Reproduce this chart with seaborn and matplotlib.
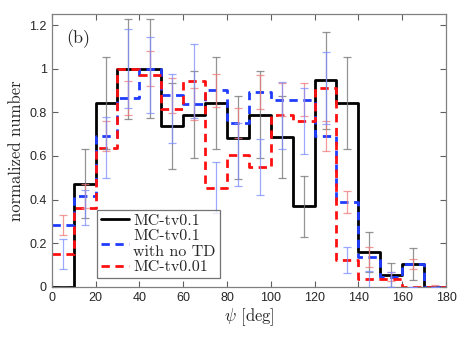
import numpy as np
import pandas as pd
import seaborn as sns
import matplotlib
matplotlib.use("Agg")
import matplotlib.pyplot as plt

# bin edges in psi [deg]
bin_edges = list(range(0, 190, 10))

# normalized counts per bin
mc_tv01 = [0, 0.473, 0.842, 1.0, 1.0, 0.737, 0.789, 0.842, 0.684, 0.789,
           0.687, 0.369, 0.947, 0.842, 0.158, 0.053, 0.105, 0]
mc_tv01_notd = [0.282, 0.417, 0.69, 0.866, 1.0, 0.878, 0.838, 0.90, 0.751, 0.893,
                0.858, 0.858, 0.69, 0.389, 0.136, 0.046, 0.105, 0]
mc_tv001 = [0.15, 0.362, 0.637, 1.0, 0.969, 0.817, 0.942, 0.455, 0.606, 0.549,
            0.786, 0.759, 0.911, 0.122, 0.034, 0.034, 0, 0]

# error half-widths per bin
err_tv01 = [0, 0.157, 0.21, 0.229, 0.227, 0.196, 0.2, 0.21, 0.19, 0.2,
            0.19, 0.139, 0.223, 0.21, 0.092, 0.054, 0.074, 0]
err_tv01_notd = [0.046, 0.055, 0.068, 0.077, 0.081, 0.08, 0.073, 0.077, 0.07, 0.076,
                 0.076, 0.076, 0.068, 0.05, 0.045, 0.02, 0.024, 0.01]
err_tv001 = [0.068, 0.08, 0.14, 0.18, 0.174, 0.159, 0.17, 0.118, 0.143, 0.13,
             0.155, 0.151, 0.165, 0.06, 0.04, 0.035, 0, 0]

labels = ["MC-tv0.1", "MC-tv0.1\nwith no TD", "MC-tv0.01"]

sns.set_style("ticks")
plt.rcParams["mathtext.fontset"] = "cm"
plt.rcParams["font.family"] = ["Liberation Sans", "DejaVu Sans"]

fig = plt.figure(figsize=(4.63, 3.37), dpi=100)
ax = fig.add_axes([0.1117, 0.149, 0.8516, 0.809])

centers = np.array(bin_edges[:-1]) + 5


def step_frame(vals):
    # repeat last value so the step reaches the final edge
    return pd.DataFrame({"x": bin_edges, "y": list(vals) + [vals[-1]]})


# error bars (colours as in the original figure)
ax.errorbar(centers, mc_tv01, yerr=err_tv01, fmt="none", ecolor="#7a7a7a",
            elinewidth=0.9, capsize=3.2, capthick=0.9, alpha=0.8, zorder=3)
ax.errorbar(centers, mc_tv01_notd, yerr=err_tv01_notd, fmt="none", ecolor="#f07878",
            elinewidth=0.9, capsize=3.2, capthick=0.9, alpha=0.75, zorder=3)
ax.errorbar(centers, mc_tv001, yerr=err_tv001, fmt="none", ecolor="#7b8cff",
            elinewidth=0.9, capsize=3.2, capthick=0.9, alpha=0.75, zorder=3)

sns.lineplot(data=step_frame(mc_tv01), x="x", y="y", ax=ax, drawstyle="steps-post",
             color="black", linewidth=2, label=labels[0], zorder=2)
sns.lineplot(data=step_frame(mc_tv01_notd), x="x", y="y", ax=ax, drawstyle="steps-post",
             color="#1f3cff", linewidth=2, dashes=False, linestyle=(0, (3, 2)),
             label=labels[1], zorder=2)
sns.lineplot(data=step_frame(mc_tv001), x="x", y="y", ax=ax, drawstyle="steps-post",
             color="#ff1010", linewidth=2, dashes=False, linestyle=(0, (3, 2)),
             label=labels[2], zorder=2)

ax.set_xlim(0, 180)
ax.set_ylim(0, 1.25)
ax.set_xticks(range(0, 181, 20))
ax.set_yticks([0, 0.2, 0.4, 0.6, 0.8, 1, 1.2])
ax.set_yticklabels(["0", "0.2", "0.4", "0.6", "0.8", "1", "1.2"])
ax.tick_params(direction="in", top=True, right=True, labelsize=9, length=4,
               color="#606060", width=0.8)
for sp in ax.spines.values():
    sp.set_color("#808080")
    sp.set_linewidth(0.9)

ax.set_xlabel(r"$\psi$ [deg]", fontsize=12, labelpad=2, family="cmr10")
ax.set_ylabel("normalized number", fontsize=12, labelpad=4, family="cmr10")
ax.text(0.036, 0.91, "(b)", transform=ax.transAxes, fontsize=13,
        va="center", ha="left", family="cmr10")

leg = ax.legend(loc="lower left", bbox_to_anchor=(0.114, 0.031), borderaxespad=0,
                frameon=True, fancybox=False, handlelength=1.8,
                handletextpad=0.25, borderpad=0.25, labelspacing=0.08,
                prop={"family": "cmr10", "size": 11.5})
leg.get_frame().set_edgecolor("#505050")
leg.get_frame().set_linewidth(0.9)
leg.set_zorder(5)

fig.savefig("out.png", dpi=100)
